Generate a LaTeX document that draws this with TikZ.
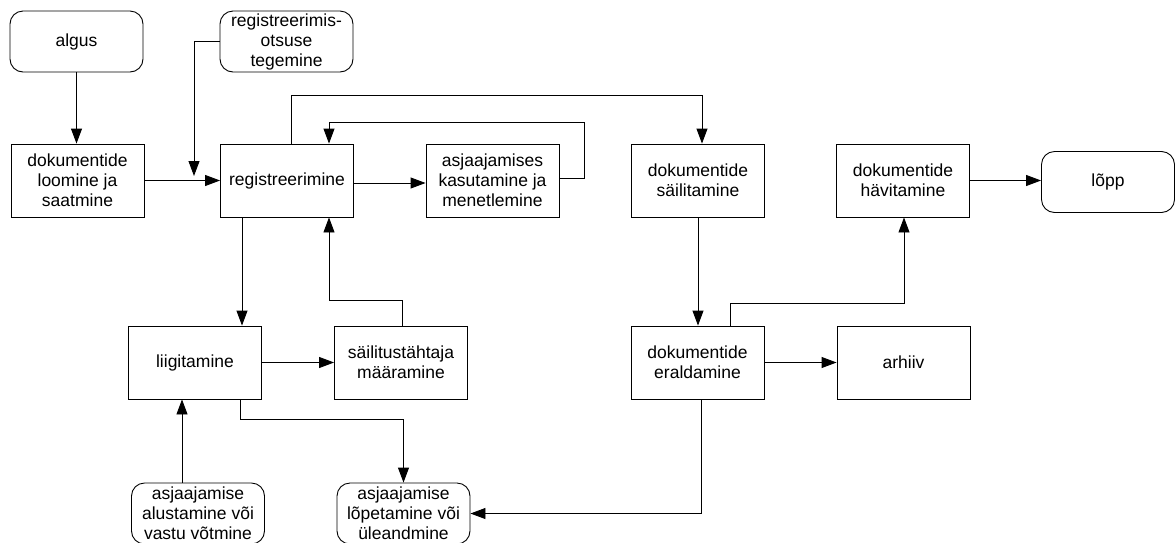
\documentclass[tikz,border=0pt]{standalone}
\usepackage{fontspec}
\setmainfont{Liberation Sans}
\usetikzlibrary{arrows.meta}

\begin{document}
\begin{tikzpicture}[
  x=1pt, y=-1pt,
  box/.style={draw, rectangle, minimum width=133pt, minimum height=73pt,
              align=center, inner sep=0pt},
  term/.style={draw, rectangle, rounded corners=13pt, minimum width=133pt,
               minimum height=61pt, align=center, inner sep=0pt},
  font=\fontsize{17.5}{20}\selectfont,
  line width=0.9pt,
  >={Triangle[length=15pt,width=11pt]}
]
  \useasboundingbox (0,0) rectangle (1175,542);

  % upper row
  \node[term] (algus)   at (76.5,41.5)  {algus};
  \node[term] (otsus)   at (286.5,41.5) {registreerimis-\\otsuse\\tegemine};
  \node[box]  (loomine) at (77.5,180.5) {dokumentide\\loomine ja\\saatmine};
  \node[box]  (reg)     at (287,180.5)  {registreerimine};
  \node[box]  (kasut)   at (492.5,180.5) {asjaajamises\\kasutamine ja\\menetlemine};
  \node[box]  (sail)    at (698,180.5)  {dokumentide\\säilitamine};
  \node[box]  (havit)   at (903,180.5)  {dokumentide\\hävitamine};
  \node[term] (lopp)    at (1108,182)   {lõpp};

  % middle row
  \node[box]  (liig)    at (195,362.5)  {liigitamine};
  \node[box]  (tahtaeg) at (401,362.5)  {säilitustähtaja\\määramine};
  \node[box]  (erald)   at (697.5,362.5) {dokumentide\\eraldamine};
  \node[box]  (arhiiv)  at (903.5,362.5) {arhiiv};

  % lower row
  \node[term] (algatus) at (198,513.5)  {asjaajamise\\alustamine või\\vastu võtmine};
  \node[term] (lopetus) at (403.5,513.5) {asjaajamise\\lõpetamine või\\üleandmine};

  \coordinate (otsusin) at (194,176);

  \draw[->] (algus.south) -- (algus.south |- loomine.north);
  \draw[->] (loomine) -- (reg);
  \draw[->] (otsus.west) -| (otsusin);
  \draw[->] ([xshift=4pt]reg.north) -- ++(0,-48) -| ([xshift=4pt]sail.north);
  \draw[->] ([yshift=2.5pt]kasut.east) -| (584,122) -| ([xshift=42pt]reg.north);
  \draw[->] ([yshift=-2.5pt]reg.east) -- ([yshift=-2.5pt]kasut.west);
  \draw[->] ([xshift=-45pt]reg.south) -- ([xshift=-45pt]reg.south |- liig.north);
  \draw[->] ([xshift=1pt]tahtaeg.north) |- (329,300) -- ([xshift=42pt]reg.south);
  \draw[->] (liig) -- (tahtaeg);
  \draw[->] ([xshift=45pt]liig.south) -- ++(0,20) -| (lopetus.north);
  \draw[->] ([xshift=-16pt]algatus.north) -- ([xshift=-16pt]algatus.north |- liig.south);
  \draw[->] (sail.south) -- (sail.south |- erald.north);
  \draw[->] ([xshift=32.5pt]erald.north) -- ++(0,-22) -| ([xshift=1pt]havit.south);
  \draw[->] (erald) -- (arhiiv);
  \draw[->] (havit.east) -- (havit.east -| lopp.west);
  \draw[->] ([xshift=4pt]erald.south) |- (lopetus.east);
\end{tikzpicture}
\end{document}
